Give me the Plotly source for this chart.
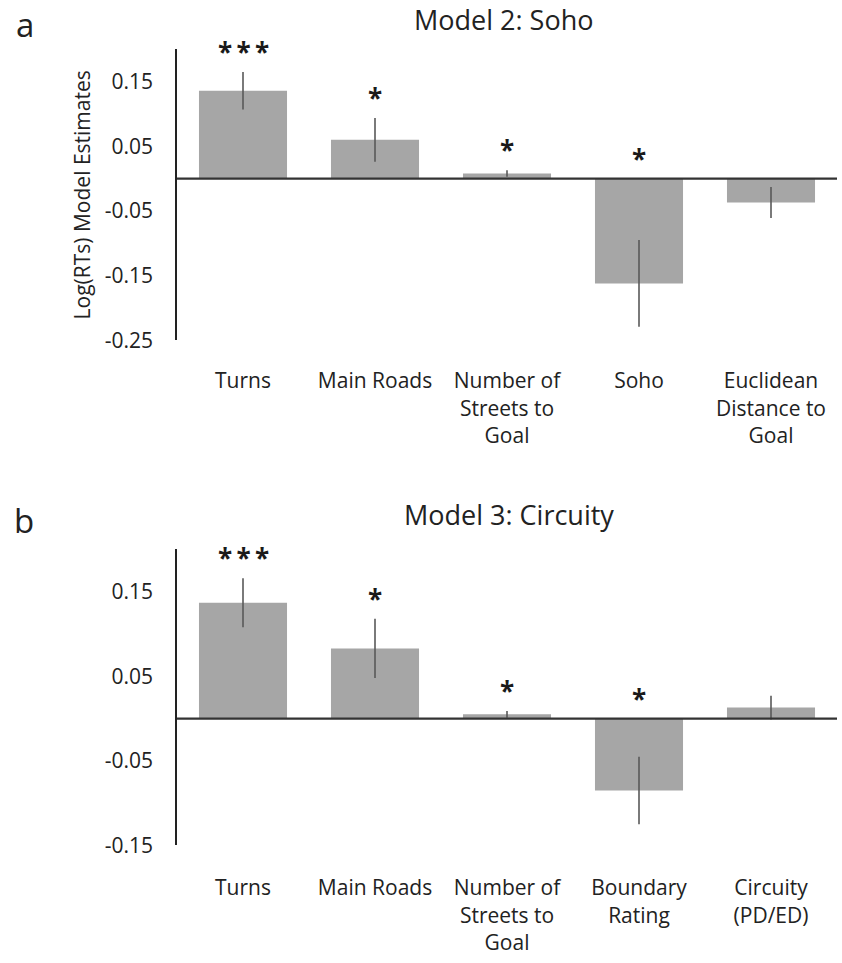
import plotly.graph_objects as go

# Panel a: Model 2 (Soho)
cats_a = ["Turns", "Main Roads", "Number of<br>Streets to<br>Goal", "Soho",
          "Euclidean<br>Distance to<br>Goal"]
est_a = [0.136, 0.060, 0.008, -0.162, -0.037]
err_a = [0.029, 0.034, 0.005, 0.067, 0.024]
sig_a = ["***", "*", "*", "*", ""]

# Panel b: Model 3 (Circuity)
cats_b = ["Turns", "Main Roads", "Number of<br>Streets to<br>Goal",
          "Boundary<br>Rating", "Circuity<br>(PD/ED)"]
est_b = [0.137, 0.083, 0.005, -0.085, 0.013]
err_b = [0.029, 0.035, 0.004, 0.040, 0.014]
sig_b = ["***", "*", "*", "*", ""]

yticks_a = [0.15, 0.05, -0.05, -0.15, -0.25]
yticks_b = [0.15, 0.05, -0.05, -0.15]

FONT = "Open Sans"
BAR = "#a6a6a6"
ERR = "#595959"
INK = "#222222"

fig = go.Figure()

panels = [
    (cats_a, est_a, err_a, sig_a, "x", "y"),
    (cats_b, est_b, err_b, sig_b, "x2", "y2"),
]
for cats, est, err, sig, xa, ya in panels:
    fig.add_trace(go.Bar(
        x=list(range(len(cats))), y=est, xaxis=xa, yaxis=ya,
        marker=dict(color=BAR, line=dict(width=0)),
        error_y=dict(type="data", array=err, color=ERR, thickness=1.6, width=0),
        showlegend=False, hoverinfo="skip",
    ))
    # significance stars above the upper end of each bar / error bar
    for i, (v, e, s) in enumerate(zip(est, err, sig)):
        if not s:
            continue
        top = max(v + e, 0.0)
        fig.add_annotation(x=i, y=top, xref=xa, yref=ya,
                           text="\u2009".join(s),
                           showarrow=False, yanchor="bottom", yshift=0,
                           font=dict(family=FONT, size=26, color="#1a1a1a",
                                     weight="bold"))
    # zero line drawn over the bars
    fig.add_shape(type="line", xref=f"{xa} domain", yref=ya,
                  x0=0, x1=1, y0=0, y1=0, layer="above",
                  line=dict(color="#333333", width=2.2))

xdom = [177 / 842, 837 / 842]
H = 963
dom_a = [(H - 345) / H, (H - 50) / H]
dom_b = [(H - 857) / H, (H - 557) / H]


def fmt(v):
    return f"{v:.2f}"


xcommon = dict(showline=False, showgrid=False, zeroline=False, ticks="",
               tickfont=dict(family=FONT, size=21, color=INK),
               range=[-0.5, 4.5], tickmode="array",
               tickvals=list(range(5)))
ycommon = dict(showgrid=False, zeroline=False, showline=True,
               linecolor="#222222", linewidth=1.6, ticks="",
               tickfont=dict(family=FONT, size=21, color=INK),
               tickmode="array", ticklabelstandoff=18)

fig.update_layout(
    width=842, height=963,
    margin=dict(l=0, r=0, t=0, b=0),
    paper_bgcolor="white", plot_bgcolor="white",
    bargap=0.333,
    xaxis=dict(domain=xdom, anchor="y", ticktext=cats_a,
               ticklabelstandoff=26, **xcommon),
    yaxis=dict(domain=dom_a, anchor="x", range=[-0.25, 0.2],
               tickvals=yticks_a, ticktext=[fmt(v) for v in yticks_a],
               title=dict(text="Log(RTs) Model Estimates", standoff=8,
                          font=dict(family=FONT, size=21, color=INK)),
               **ycommon),
    xaxis2=dict(domain=xdom, anchor="y2", ticktext=cats_b,
                ticklabelstandoff=28, **xcommon),
    yaxis2=dict(domain=dom_b, anchor="x2", range=[-0.15, 0.2],
                tickvals=yticks_b, ticktext=[fmt(v) for v in yticks_b],
                **ycommon),
)

# panel titles and letters
for txt, x, y, size in [
    ("Model 2: Soho", 503, 20, 27),
    ("Model 3: Circuity", 509, 522, 27),
]:
    fig.add_annotation(x=x / 842, y=(H - y) / H, xref="paper", yref="paper",
                       text=txt, showarrow=False, xanchor="center",
                       yanchor="middle",
                       font=dict(family=FONT, size=size, color=INK))
for txt, x, y in [("a", 25, 25), ("b", 24, 528)]:
    fig.add_annotation(x=x / 842, y=(H - y) / H, xref="paper", yref="paper",
                       text=txt, showarrow=False, xanchor="center",
                       yanchor="middle",
                       font=dict(family=FONT, size=33, color=INK))

fig.write_html("out.html")
